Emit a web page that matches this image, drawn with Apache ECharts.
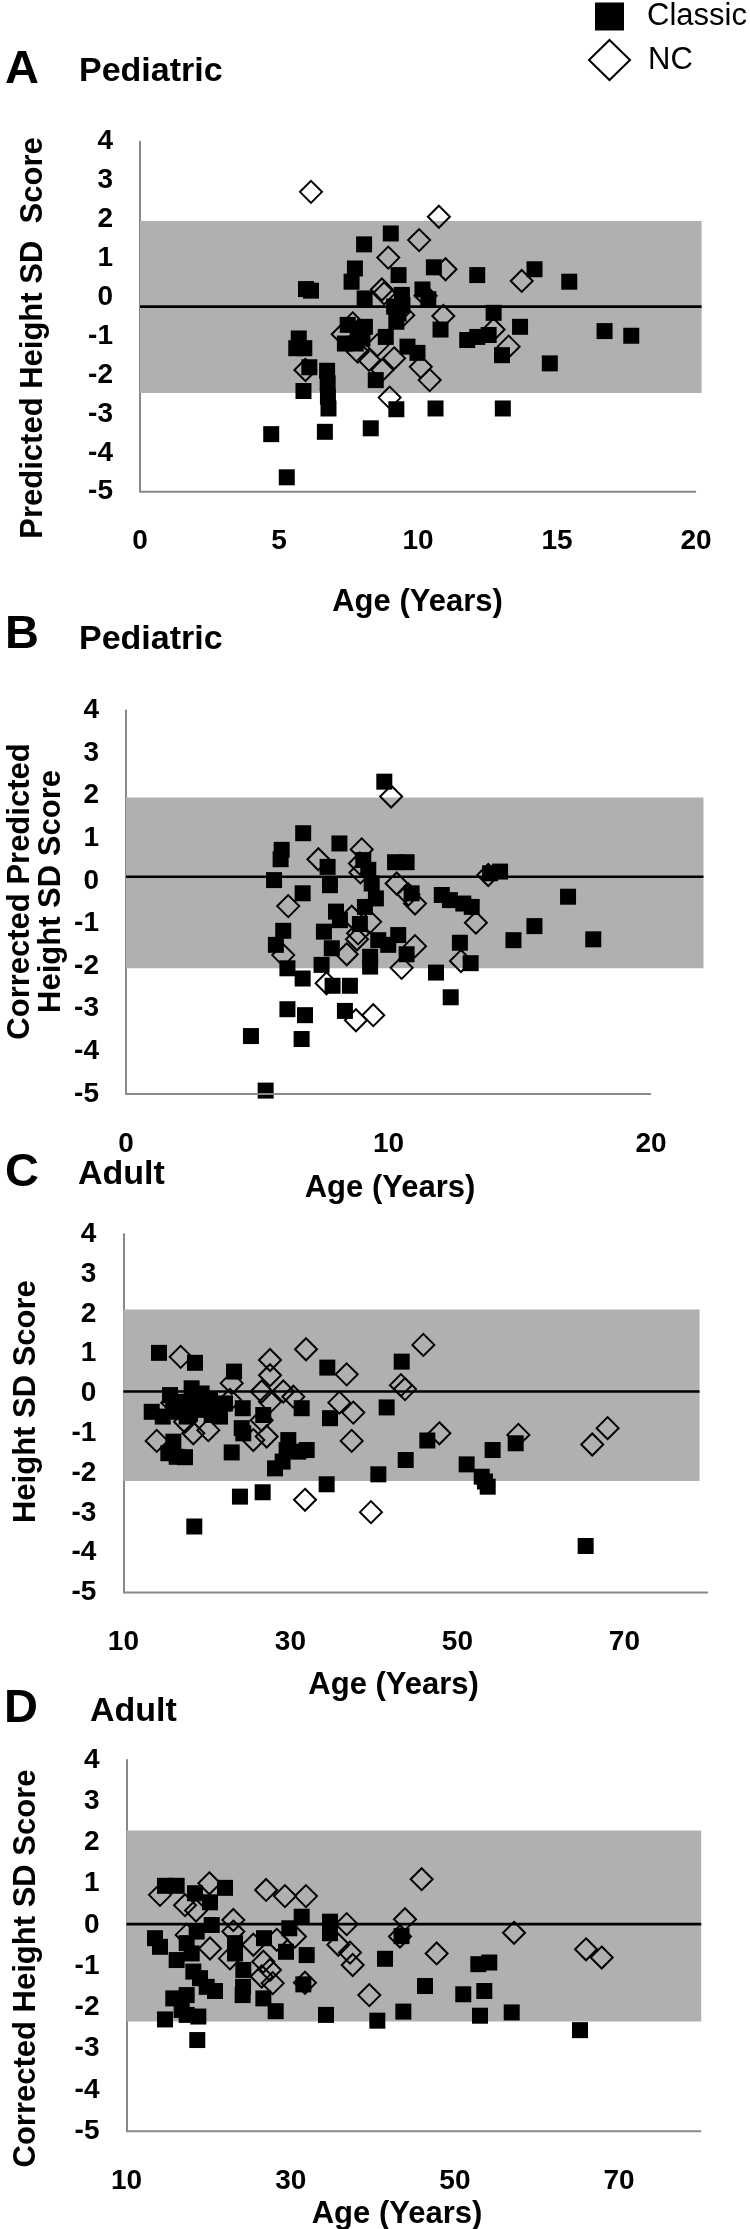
<!DOCTYPE html>
<html><head><meta charset="utf-8">
<script src="https://cdn.jsdelivr.net/npm/echarts@6/dist/echarts.min.js"></script>
<style>html,body{margin:0;padding:0;background:#fff}#c{width:750px;height:2229px}</style>
</head><body><div id="c"></div>
<script>
// ---------- DATA ----------
const SERIES_NAMES = ['Classic', 'NC'];
const Y_TICKS = [4, 3, 2, 1, 0, -1, -2, -3, -4, -5];
const A_X_TICKS = [0, 5, 10, 15, 20];
const B_X_TICKS = [0, 10, 20];
const ADULT_X_TICKS = [10, 30, 50, 70];

// [upper band, mean line, lower band]
const A_REF = [1.96, -0.24, -2.46];
const B_REF = [1.96, 0.10, -2.05];
const C_REF = [2.11, 0.05, -2.20];
const D_REF = [2.29, 0.02, -2.34];

const A_CLASSIC = [[4.72,-3.52],[5.28,-4.63],[5.88,-2.41],[5.71,-1.06],[5.62,-1.31],[5.91,-1.31],[6.09,-1.80],[5.97,0.21],[6.15,0.17],[6.73,-1.89],[6.75,-2.21],[6.76,-2.56],[6.78,-2.86],[6.65,-3.46],[8.30,-3.37],[8.06,1.36],[9.02,1.64],[7.73,0.74],[7.61,0.40],[8.08,-0.03],[9.30,0.57],[10.57,0.77],[12.13,0.57],[9.42,0.06],[10.16,0.20],[10.37,-0.05],[9.14,-0.24],[9.44,-0.20],[9.30,-0.42],[9.22,-0.63],[8.84,-1.02],[7.47,-0.71],[7.83,-0.80],[8.09,-0.76],[7.37,-1.19],[7.76,-1.19],[8.00,-1.06],[8.48,-2.13],[9.22,-2.88],[10.63,-2.86],[13.05,-2.86],[9.62,-1.27],[9.98,-1.43],[10.81,-0.83],[12.72,-0.40],[11.77,-1.10],[12.13,-1.02],[12.54,-0.97],[13.02,-1.49],[13.67,-0.76],[14.19,0.72],[15.44,0.40],[16.71,-0.87],[17.67,-0.99],[14.74,-1.70]];
const A_NC = [[6.15,2.71],[10.75,2.07],[10.04,1.47],[8.93,1.02],[10.99,0.72],[13.73,0.42],[8.70,0.20],[8.78,0.10],[9.32,-0.37],[10.27,0.04],[10.91,-0.48],[7.29,-0.95],[7.65,-0.67],[7.83,-1.40],[8.24,-1.61],[8.54,-1.23],[8.72,-1.87],[9.14,-1.57],[5.95,-1.87],[10.10,-1.79],[10.42,-2.13],[8.98,-2.58],[12.72,-0.83],[13.26,-1.27],[9.47,-0.46]];

const B_CLASSIC = [[9.84,2.33],[6.75,1.12],[8.13,0.88],[5.93,0.73],[5.89,0.51],[5.64,0.02],[7.68,0.33],[7.77,-0.10],[6.73,-0.29],[9.04,0.49],[9.23,0.26],[9.36,-0.06],[9.52,-0.41],[9.10,-0.61],[10.25,0.44],[10.69,0.44],[10.88,-0.29],[12.03,-0.33],[12.34,-0.45],[12.85,-0.53],[13.17,-0.61],[14.25,0.22],[13.87,0.18],[8.00,-0.72],[8.15,-0.92],[7.54,-1.19],[8.91,-1.01],[5.99,-1.17],[5.71,-1.50],[7.84,-1.58],[9.61,-1.39],[10.37,-1.27],[9.99,-1.50],[9.30,-1.78],[9.30,-2.01],[10.69,-1.72],[12.72,-1.45],[13.13,-1.93],[14.76,-1.39],[7.45,-1.97],[6.15,-2.05],[6.73,-2.29],[7.87,-2.46],[8.53,-2.46],[11.81,-2.15],[12.37,-2.73],[6.15,-3.01],[6.82,-3.15],[8.34,-3.05],[4.76,-3.64],[6.69,-3.71],[5.32,-4.92],[16.84,-0.37],[15.56,-1.06],[17.80,-1.37]];
const B_NC = [[10.10,1.98],[7.33,0.51],[8.98,0.74],[8.91,0.41],[8.93,0.20],[6.18,-0.59],[10.31,-0.06],[10.76,-0.32],[11.01,-0.53],[13.80,0.14],[13.33,-0.98],[9.30,-0.96],[8.60,-0.84],[8.84,-1.23],[8.80,-1.37],[8.41,-1.72],[5.99,-1.74],[11.01,-1.53],[10.50,-2.04],[12.76,-1.88],[7.64,-2.40],[8.76,-3.27],[9.42,-3.15]];

const C_CLASSIC = [[14.26,1.02],[18.57,0.77],[23.25,0.55],[34.42,0.65],[43.33,0.80],[13.39,-0.46],[14.71,-0.58],[15.58,-0.04],[16.98,-0.21],[18.17,0.13],[18.37,-0.21],[19.37,0.00],[16.58,-0.46],[17.98,-0.50],[19.37,-0.41],[20.57,-0.54],[21.17,-0.37],[22.17,-0.25],[20.37,-0.16],[15.97,-0.33],[17.58,-0.58],[18.97,-0.29],[21.57,-0.58],[24.29,-0.37],[24.17,-0.87],[24.36,-1.00],[26.75,-0.54],[31.35,-0.37],[34.74,-0.62],[41.53,-0.35],[15.98,-1.21],[15.38,-1.50],[16.38,-1.59],[17.38,-1.60],[22.97,-1.48],[29.75,-1.17],[29.55,-1.42],[31.95,-1.42],[30.95,-1.46],[29.07,-1.71],[28.16,-1.88],[40.53,-2.03],[43.81,-1.67],[46.40,-1.18],[23.96,-2.59],[26.68,-2.48],[34.34,-2.28],[18.49,-3.34],[54.22,-1.42],[56.98,-1.25],[51.11,-1.78],[52.91,-2.09],[53.30,-2.21],[53.63,-2.34],[65.36,-3.83]];
const C_NC = [[16.86,0.92],[31.87,1.11],[27.56,0.84],[27.56,0.46],[36.74,0.48],[45.92,1.22],[43.24,0.21],[43.72,0.11],[22.97,0.26],[26.56,0.05],[29.15,0.05],[30.35,-0.08],[27.56,-0.21],[35.86,-0.23],[37.53,-0.48],[37.34,-1.19],[13.99,-1.19],[17.38,-0.71],[18.37,-1.00],[20.17,-0.92],[25.56,-1.17],[27.16,-1.08],[26.56,-0.67],[31.75,-2.67],[39.65,-2.98],[22.77,-0.16],[47.84,-1.00],[57.30,-1.04],[66.15,-1.28],[67.99,-0.87],[15.85,-0.23]];

const D_CLASSIC = [[14.69,0.95],[16.11,0.95],[18.34,0.77],[22.00,0.90],[20.17,0.55],[31.34,0.20],[34.79,0.08],[20.38,0.00],[29.83,-0.08],[34.79,-0.20],[13.47,-0.32],[14.08,-0.53],[18.55,-0.16],[17.33,-0.44],[17.94,-0.69],[16.11,-0.85],[26.75,-0.32],[23.22,-0.44],[23.22,-0.69],[29.43,-0.65],[31.95,-0.73],[24.23,-1.09],[18.14,-1.13],[18.95,-1.29],[19.77,-1.50],[20.78,-1.60],[24.20,-1.50],[24.15,-1.70],[15.70,-1.78],[17.33,-1.70],[14.69,-2.29],[16.72,-2.06],[17.33,-2.18],[18.75,-2.22],[26.67,-1.78],[28.17,-2.09],[34.30,-2.18],[40.55,-2.32],[43.72,-2.10],[41.49,-0.82],[31.54,-1.44],[43.50,-0.27],[18.62,-2.79],[46.36,-1.48],[52.85,-0.95],[54.19,-0.91],[51.02,-1.68],[53.58,-1.60],[53.06,-2.20],[56.92,-2.12],[65.24,-2.55]];
const D_NC = [[14.08,0.73],[20.09,1.01],[17.13,0.48],[18.47,0.35],[27.00,0.85],[29.30,0.70],[31.86,0.70],[45.95,1.11],[23.01,0.12],[36.82,0.02],[43.92,0.14],[23.01,-0.16],[20.17,-0.57],[17.33,-0.24],[30.52,-0.28],[35.80,-0.48],[37.22,-0.67],[37.55,-0.97],[28.30,-0.36],[25.45,-0.48],[22.60,-0.81],[26.67,-0.89],[27.48,-1.09],[26.47,-1.25],[27.81,-1.41],[31.74,-1.40],[39.57,-1.70],[43.31,-0.28],[47.78,-0.69],[57.20,-0.19],[65.97,-0.59],[67.88,-0.79]];

// ---------- LAYOUT ----------
const FONT = '"Liberation Sans", Arial, Helvetica, sans-serif';
const BAND_COLOR = '#b0b0b0';
const AXIS_COLOR = '#888888';

const panels = [
  { classic: A_CLASSIC, nc: A_NC, ref: A_REF, ticks: A_X_TICKS, xMin: 0, xMax: 20.2, axisEnd: 20, bandEnd: 20.2, interval: 5,
    grid: { left: 140, top: 141.7, width: 561.6, height: 350 } },
  { classic: B_CLASSIC, nc: B_NC, ref: B_REF, ticks: B_X_TICKS, xMin: 0, xMax: 22, axisEnd: 20, bandEnd: 22, interval: 10,
    grid: { left: 126, top: 710.5, width: 577.5, height: 383.5 } },
  { classic: C_CLASSIC, nc: C_NC, ref: C_REF, ticks: ADULT_X_TICKS, xMin: 10, xMax: 80, axisEnd: 80, bandEnd: 79, interval: 10,
    grid: { left: 123.4, top: 1234.2, width: 584.5, height: 358.4 } },
  { classic: D_CLASSIC, nc: D_NC, ref: D_REF, ticks: ADULT_X_TICKS, xMin: 10, xMax: 80, axisEnd: 80, bandEnd: 80, interval: 10,
    grid: { left: 126.5, top: 1760, width: 574.7, height: 371.2 } }
];

const grids = [], xAxes = [], yAxes = [], series = [];
panels.forEach((p, i) => {
  grids.push(Object.assign({ containLabel: false }, p.grid));
  xAxes.push({
    gridIndex: i, type: 'value', min: p.xMin, max: p.xMax, interval: p.interval,
    axisLine: { show: false, onZero: false }, axisTick: { show: false }, splitLine: { show: false },
    axisLabel: { margin: 36, fontSize: 28, fontWeight: 'bold', color: '#000', fontFamily: FONT,
      formatter: v => (p.ticks.indexOf(Math.round(v * 1000) / 1000) >= 0 ? String(v) : '') }
  });
  yAxes.push({
    gridIndex: i, type: 'value', min: -5, max: 4, interval: 1,
    axisLine: { show: true, onZero: false, lineStyle: { color: AXIS_COLOR, width: 2 } },
    axisTick: { show: false }, splitLine: { show: false },
    axisLabel: { margin: 27, fontSize: 28, fontWeight: 'bold', color: '#000', fontFamily: FONT,
      formatter: v => (Y_TICKS.indexOf(v) >= 0 ? String(v) : '') }
  });
  // band (reference range)
  series.push({
    type: 'line', xAxisIndex: i, yAxisIndex: i, z: 1, silent: true, symbol: 'none',
    data: [[p.xMin, p.ref[1]], [p.bandEnd, p.ref[1]]],
    lineStyle: { opacity: 0 },
    markArea: { silent: true, itemStyle: { color: BAND_COLOR, opacity: 1, borderWidth: 0 },
      data: [[{ coord: [p.xMin, p.ref[0]] }, { coord: [p.bandEnd, p.ref[2]] }]] }
  });
  // mean line
  series.push({
    type: 'line', xAxisIndex: i, yAxisIndex: i, z: 2, silent: true, symbol: 'none',
    data: [[p.xMin, p.ref[1]], [p.bandEnd, p.ref[1]]],
    lineStyle: { color: '#000', width: 2.6 }
  });
  // x axis line
  series.push({
    type: 'line', xAxisIndex: i, yAxisIndex: i, z: 5, silent: true, symbol: 'none', clip: false,
    data: [[p.xMin, -5], [p.axisEnd, -5]],
    lineStyle: { color: AXIS_COLOR, width: 2 }
  });
  series.push({
    name: SERIES_NAMES[0], type: 'scatter', xAxisIndex: i, yAxisIndex: i, z: 3,
    symbol: 'rect', symbolSize: 16, data: p.classic,
    itemStyle: { color: '#000', borderWidth: 0, opacity: 1 }
  });
  series.push({
    name: SERIES_NAMES[1], type: 'scatter', xAxisIndex: i, yAxisIndex: i, z: 4,
    symbol: 'diamond', symbolSize: 22, data: p.nc,
    itemStyle: { color: 'rgba(0,0,0,0)', borderColor: '#000', borderWidth: 2, opacity: 1 }
  });
});

function txt(text, x, y, size, opt) {
  opt = opt || {};
  const align = opt.align || 'left';
  return {
    type: 'text', x: x, y: y, rotation: opt.rot || 0, silent: true,
    style: { text: text, fill: '#000', fontSize: size, fontWeight: opt.weight || 'bold', fontFamily: FONT,
      align: align, textAlign: align, verticalAlign: 'middle', textVerticalAlign: 'middle' }
  };
}
const R = Math.PI / 2;
const graphics = [
  txt('A', 5, 70.4, 47), txt('Pediatric', 79, 71.5, 34),
  txt('B', 5, 635.4, 47), txt('Pediatric', 79, 639.5, 34),
  txt('C', 5, 1173.4, 47), txt('Adult', 78, 1174.5, 34),
  txt('D', 4, 1709.4, 47), txt('Adult', 90, 1711.5, 34),
  txt('Age (Years)', 417.5, 602.4, 31, { align: 'center' }),
  txt('Age (Years)', 390, 1188, 31, { align: 'center' }),
  txt('Age (Years)', 393.6, 1685.7, 31, { align: 'center' }),
  txt('Age (Years)', 397, 2214.5, 31, { align: 'center' }),
  txt('Predicted Height SD  Score', 33, 338, 31, { align: 'center', rot: R }),
  txt('Corrected Predicted', 20.5, 891.5, 31, { align: 'center', rot: R }),
  txt('Height SD Score', 51.5, 891.5, 31, { align: 'center', rot: R }),
  txt('Height SD Score', 26.5, 1401.6, 31, { align: 'center', rot: R }),
  txt('Corrected Height SD Score', 26.5, 1968.5, 31, { align: 'center', rot: R })
];

const chart = echarts.init(document.getElementById('c'), null, { renderer: 'canvas' });
chart.setOption({
  animation: false,
  backgroundColor: '#fff',
  textStyle: { fontFamily: FONT },
  legend: [
    { data: [{ name: SERIES_NAMES[0], icon: 'rect' }], left: 595, top: 1, padding: 0,
      itemWidth: 29, itemHeight: 28, selectedMode: false,
      itemStyle: { color: '#000', borderWidth: 0, opacity: 1 },
      textStyle: { fontSize: 31, fontWeight: 'normal', color: '#000', fontFamily: FONT, padding: [0, 0, 0, 18] } },
    { data: [{ name: SERIES_NAMES[1], icon: 'diamond' }], left: 588, top: 39, padding: 0,
      itemWidth: 41, itemHeight: 40, selectedMode: false,
      itemStyle: { color: '#fff', borderColor: '#000', borderWidth: 2, opacity: 1 },
      textStyle: { fontSize: 31, fontWeight: 'normal', color: '#000', fontFamily: FONT, padding: [0, 0, 0, 13] } }
  ],
  grid: grids, xAxis: xAxes, yAxis: yAxes, series: series,
  graphic: graphics
});
</script></body></html>
